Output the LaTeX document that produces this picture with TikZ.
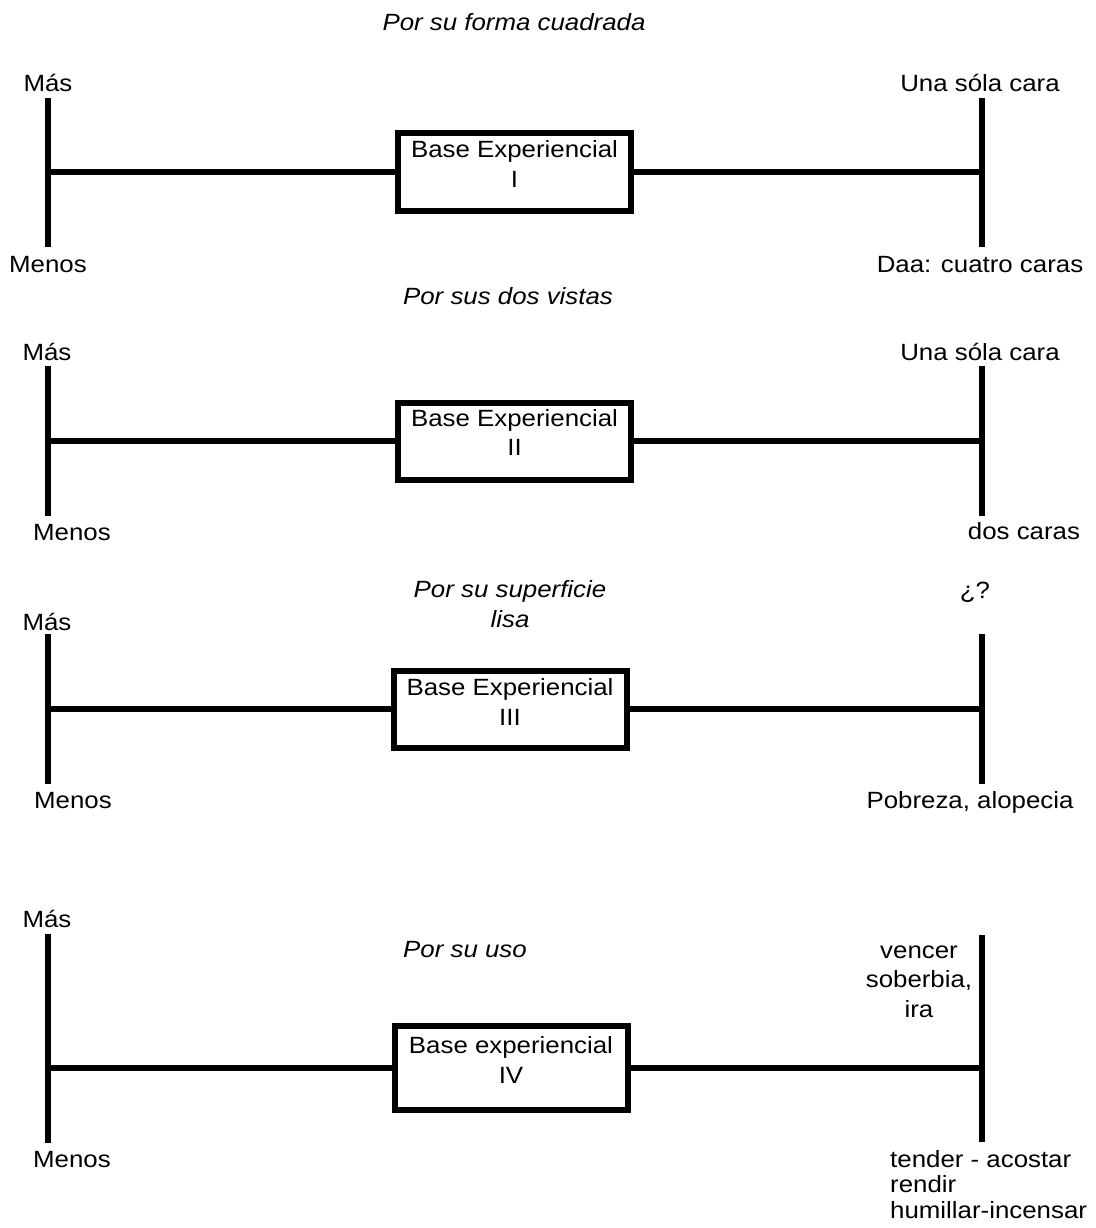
\documentclass[tikz,border=0pt]{standalone}
\usepackage{fontspec}
\setmainfont{Liberation Sans}[FakeStretch=1.1]
\begin{document}
\begin{tikzpicture}[x=1pt,y=-1pt,
  txt/.style={font=\fontsize{23.5}{29.5}\selectfont, inner sep=0pt, anchor=base, align=center},
  ital/.style={txt, font=\fontsize{23.5}{29.5}\selectfont\itshape},
  ln/.style={line width=6pt},
  bx/.style={draw, line width=6pt, minimum width=233pt, minimum height=77pt, inner sep=0pt},
  bxtall/.style={bx, minimum height=84pt}]
\useasboundingbox[fill=white] (0,0) rectangle (1095,1228);

% ---------- Section 1
\node[ital] (t1) at (514,31) {Por su forma cuadrada};
\node[txt] (mas1) at (48,92) {Más};
\node[txt] (men1) at (48,272) {Menos};
\node[txt] (r1a) at (980,92) {Una sóla cara};
\node[txt] (r1b) at (980,272) {Daa: cuatro caras};
\coordinate (L1t) at (48,98); \coordinate (L1b) at (48,247); \coordinate (L1m) at (48,172);
\coordinate (R1t) at (982,98); \coordinate (R1b) at (982,247); \coordinate (R1m) at (982,172);
\node[bx] (b1) at (514.5,172) {};
\node[txt] (b1t) at (514.5,187) {Base Experiencial\\I};
\draw[ln] (L1t) -- (L1b);
\draw[ln] (R1t) -- (R1b);
\draw[ln] (L1m) -- (b1.west);
\draw[ln] (b1.east) -- (R1m);

% ---------- Section 2
\node[ital] (t2) at (508,304) {Por sus dos vistas};
\node[txt] (mas2) at (47,360) {Más};
\node[txt] (men2) at (72,540) {Menos};
\node[txt] (r2a) at (980,360) {Una sóla cara};
\node[txt] (r2b) at (1024,539) {dos caras};
\coordinate (L2t) at (48,366); \coordinate (L2b) at (48,516); \coordinate (L2m) at (48,441);
\coordinate (R2t) at (982,366); \coordinate (R2b) at (982,516); \coordinate (R2m) at (982,441);
\node[bx] (b2) at (514.5,441) {};
\node[txt] (b2t) at (514.5,455.5) {Base Experiencial\\II};
\draw[ln] (L2t) -- (L2b);
\draw[ln] (R2t) -- (R2b);
\draw[ln] (L2m) -- (b2.west);
\draw[ln] (b2.east) -- (R2m);

% ---------- Section 3
\node[ital] (t3) at (510,627) {Por su superficie\\lisa};
\node[txt] (mas3) at (47,630) {Más};
\node[txt] (men3) at (73,808) {Menos};
\node[txt] (r3a) at (975,598) {¿?};
\node[txt] (r3b) at (970,808) {Pobreza, alopecia};
\coordinate (L3t) at (48,634); \coordinate (L3b) at (48,784); \coordinate (L3m) at (48,709);
\coordinate (R3t) at (982,634); \coordinate (R3b) at (982,784); \coordinate (R3m) at (982,709);
\node[bx] (b3) at (510,709) {};
\node[txt] (b3t) at (510,725) {Base Experiencial\\III};
\draw[ln] (L3t) -- (L3b);
\draw[ln] (R3t) -- (R3b);
\draw[ln] (L3m) -- (b3.west);
\draw[ln] (b3.east) -- (R3m);

% ---------- Section 4
\node[ital] (t4) at (465,957) {Por su uso};
\node[txt] (mas4) at (47,927) {Más};
\node[txt] (men4) at (72,1167) {Menos};
\node[txt] (r4a) at (919,1017) {vencer\\soberbia,\\ira};
\node[txt, font=\fontsize{23.5}{25.5}\selectfont, align=left, anchor=base west] (r4b) at (890,1218) {tender - acostar\\rendir\\humillar-incensar};
\coordinate (L4t) at (48,934); \coordinate (L4b) at (48,1143); \coordinate (L4m) at (48,1068);
\coordinate (R4t) at (982,935); \coordinate (R4b) at (982,1142); \coordinate (R4m) at (982,1068);
\node[bxtall] (b4) at (511,1068) {};
\node[txt] (b4t) at (511,1083) {Base experiencial\\IV};
\draw[ln] (L4t) -- (L4b);
\draw[ln] (R4t) -- (R4b);
\draw[ln] (L4m) -- (b4.west);
\draw[ln] (b4.east) -- (R4m);
\end{tikzpicture}
\end{document}
